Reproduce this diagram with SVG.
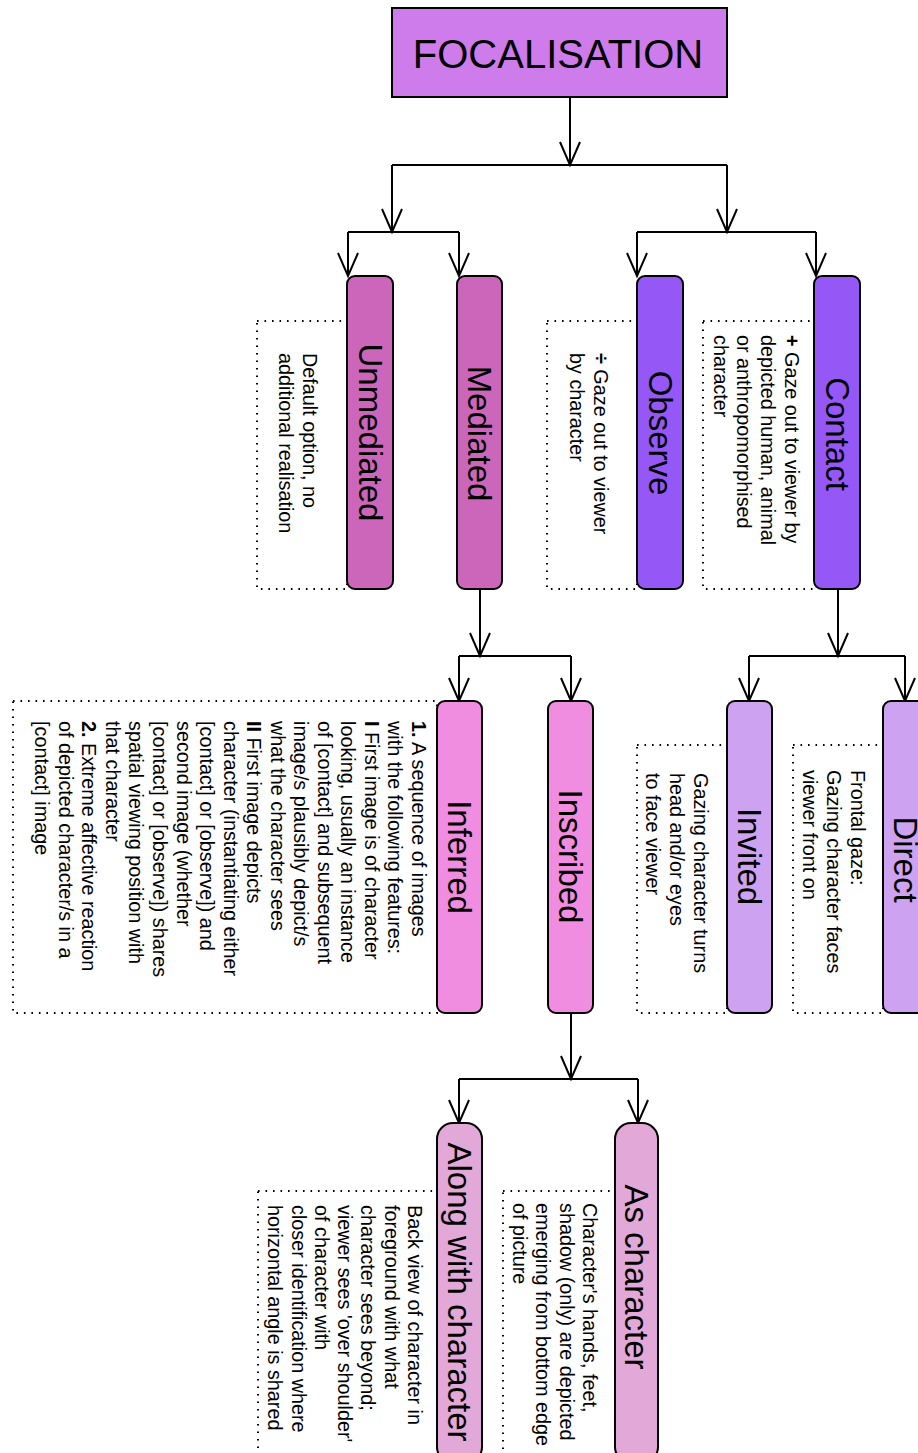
<svg xmlns="http://www.w3.org/2000/svg" width="918" height="1453" viewBox="0 0 918 1453">
<style>
.n{stroke:#000;stroke-width:2}
.d{fill:none;stroke:#000;stroke-width:2;stroke-dasharray:1.6 5.9}
.e{fill:none;stroke:#000;stroke-width:2}
.t{font-family:"Liberation Sans",Arial,sans-serif;font-size:33px;text-anchor:middle;fill:#000}
.s{font-family:"Liberation Sans",Arial,sans-serif;font-size:19.8px;fill:#000}
.b{font-weight:bold}
</style>
<defs>
<marker id="arr" markerUnits="userSpaceOnUse" orient="auto" refX="0" refY="0" markerWidth="30" markerHeight="30" overflow="visible">
<path d="M-23,-10 L0,0 L-23,10" fill="none" stroke="#000" stroke-width="2"/>
</marker>
</defs>
<rect width="918" height="1453" fill="#fff"/>

<g id="connectors">
<path class="e" d="M570,97 V165" marker-end="url(#arr)"/>
<path class="e" d="M392,165 H727"/>
<path class="e" d="M392,165 V232" marker-end="url(#arr)"/>
<path class="e" d="M727,165 V232" marker-end="url(#arr)"/>
<path class="e" d="M348,232 H459"/>
<path class="e" d="M348,232 V276" marker-end="url(#arr)"/>
<path class="e" d="M459,232 V276" marker-end="url(#arr)"/>
<path class="e" d="M637,232 H816"/>
<path class="e" d="M637,232 V276" marker-end="url(#arr)"/>
<path class="e" d="M816,232 V276" marker-end="url(#arr)"/>
<path class="e" d="M838,589 V656" marker-end="url(#arr)"/>
<path class="e" d="M749,656 H905"/>
<path class="e" d="M749,656 V701" marker-end="url(#arr)"/>
<path class="e" d="M905,656 V701" marker-end="url(#arr)"/>
<path class="e" d="M480,589 V656" marker-end="url(#arr)"/>
<path class="e" d="M459,656 H571"/>
<path class="e" d="M459,656 V701" marker-end="url(#arr)"/>
<path class="e" d="M571,656 V701" marker-end="url(#arr)"/>
<path class="e" d="M571,1013 V1079" marker-end="url(#arr)"/>
<path class="e" d="M459,1079 H638"/>
<path class="e" d="M459,1079 V1123" marker-end="url(#arr)"/>
<path class="e" d="M638,1079 V1123" marker-end="url(#arr)"/>
</g>

<g id="focalisation">
<rect class="n" x="392" y="8" width="335" height="89" fill="#CE7BEB"/>
<text x="558" y="68" font-family="Liberation Sans, Arial, sans-serif" font-size="40" text-anchor="middle">FOCALISATION</text>
</g>

<g id="contact">
<rect class="d" x="703" y="321" width="112" height="268"/>
<rect class="n" x="814" y="276" width="46" height="313" rx="8" fill="#9558F7"/>
<text class="t" transform="translate(837,434) rotate(90)" y="11.5">Contact</text>
<text class="s" transform="translate(785,335) rotate(90)"><tspan x="0" y="0"><tspan class="b">+</tspan> Gaze out to viewer by</tspan><tspan x="0" y="23.8">depicted human, animal</tspan><tspan x="0" y="47.6">or anthropomorphised</tspan><tspan x="0" y="71.4">character</tspan></text>
</g>

<g id="observe">
<rect class="d" x="547" y="321" width="90" height="268"/>
<rect class="n" x="637" y="276" width="46" height="313" rx="8" fill="#9558F7"/>
<text class="t" transform="translate(660,433) rotate(90)" y="11.5">Observe</text>
<text class="s" transform="translate(594,353) rotate(90)"><tspan x="0" y="0"><tspan class="b">÷</tspan> Gaze out to viewer</tspan><tspan x="0" y="23.8">by character</tspan></text>
</g>

<g id="mediated">
<rect class="n" x="457" y="276" width="45" height="313" rx="8" fill="#CC66BB"/>
<text class="t" transform="translate(479.5,433.5) rotate(90)" y="11.5">Mediated</text>
</g>

<g id="unmediated">
<rect class="d" x="257" y="321" width="90" height="268"/>
<rect class="n" x="347" y="276" width="46" height="313" rx="8" fill="#CC66BB"/>
<text class="t" transform="translate(370,432.5) rotate(90)" y="11.5">Unmediated</text>
<text class="s" transform="translate(303,353) rotate(90)"><tspan x="0" y="0">Default option, no</tspan><tspan x="0" y="23.8">additional realisation</tspan></text>
</g>

<g id="direct">
<rect class="d" x="793" y="745" width="90" height="268"/>
<rect class="n" x="883" y="701" width="45" height="312" rx="8" fill="#CDA2F0"/>
<text class="t" transform="translate(905.5,859.5) rotate(90)" y="11.5">Direct</text>
<text class="s" transform="translate(851,770) rotate(90)"><tspan x="0" y="0">Frontal gaze:</tspan><tspan x="0" y="23.8">Gazing character faces</tspan><tspan x="0" y="47.6">viewer front on</tspan></text>
</g>

<g id="invited">
<rect class="d" x="637" y="745" width="90" height="268"/>
<rect class="n" x="727" y="701" width="45" height="312" rx="8" fill="#CDA2F0"/>
<text class="t" transform="translate(749.5,856.5) rotate(90)" y="11.5">Invited</text>
<text class="s" transform="translate(694,773) rotate(90)"><tspan x="0" y="0">Gazing character turns</tspan><tspan x="0" y="23.8">head and/or eyes</tspan><tspan x="0" y="47.6">to face viewer</tspan></text>
</g>

<g id="inscribed">
<rect class="n" x="548" y="701" width="45" height="312" rx="8" fill="#F08DE0"/>
<text class="t" transform="translate(570.5,856.5) rotate(90)" y="11.5">Inscribed</text>
</g>

<g id="inferred">
<rect class="d" x="13" y="701" width="424" height="312"/>
<rect class="n" x="437" y="701" width="45" height="312" rx="8" fill="#F08DE0"/>
<text class="t" transform="translate(459.5,857) rotate(90)" y="11.5">Inferred</text>
<text class="s" transform="translate(412,721) rotate(90)"><tspan x="0" y="0"><tspan class="b">1.</tspan> A sequence of images</tspan><tspan x="0" y="23.55">with the following features:</tspan><tspan x="0" y="47.1"><tspan class="b">I</tspan> First image is of character</tspan><tspan x="0" y="70.65">looking, usually an instance</tspan><tspan x="0" y="94.2">of [contact] and subsequent</tspan><tspan x="0" y="117.75">image/s plausibly depict/s</tspan><tspan x="0" y="141.3">what the character sees</tspan><tspan x="0" y="164.85"><tspan class="b">II</tspan> First image depicts</tspan><tspan x="0" y="188.4">character (instantiating either</tspan><tspan x="0" y="211.95">[contact] or [observe]) and</tspan><tspan x="0" y="235.5">second image (whether</tspan><tspan x="0" y="259.05">[contact] or [observe]) shares</tspan><tspan x="0" y="282.6">spatial viewing position with</tspan><tspan x="0" y="306.15">that character</tspan><tspan x="0" y="329.7"><tspan class="b">2.</tspan> Extreme affective reaction</tspan><tspan x="0" y="353.25">of depicted character/s in a</tspan><tspan x="0" y="376.8">[contact] image</tspan></text>
</g>

<g id="as-character">
<rect class="d" x="503" y="1191" width="112" height="272"/>
<rect class="n" x="615" y="1123" width="43" height="340" rx="16" fill="#E2A8D8"/>
<text class="t" transform="translate(636.5,1277) rotate(90)" y="11.5">As character</text>
<text class="s" transform="translate(583,1203) rotate(90)"><tspan x="0" y="0">Character's hands, feet,</tspan><tspan x="0" y="23.3">shadow (only) are depicted</tspan><tspan x="0" y="46.6">emerging from bottom edge</tspan><tspan x="0" y="69.9">of picture</tspan></text>
</g>

<g id="along-with-character">
<rect class="d" x="258" y="1191" width="179" height="272"/>
<rect class="n" x="437" y="1123" width="45" height="340" rx="16" fill="#E2A8D8"/>
<text class="t" transform="translate(459.5,1292) rotate(90)" y="11.5">Along with character</text>
<text class="s" transform="translate(408,1205) rotate(90)"><tspan x="0" y="0">Back view of character in</tspan><tspan x="0" y="23.3">foreground with what</tspan><tspan x="0" y="46.6">character sees beyond;</tspan><tspan x="0" y="69.9">viewer sees 'over shoulder'</tspan><tspan x="0" y="93.2">of character with</tspan><tspan x="0" y="116.5">closer identification where</tspan><tspan x="0" y="139.8">horizontal angle is shared</tspan></text>
</g>
</svg>
